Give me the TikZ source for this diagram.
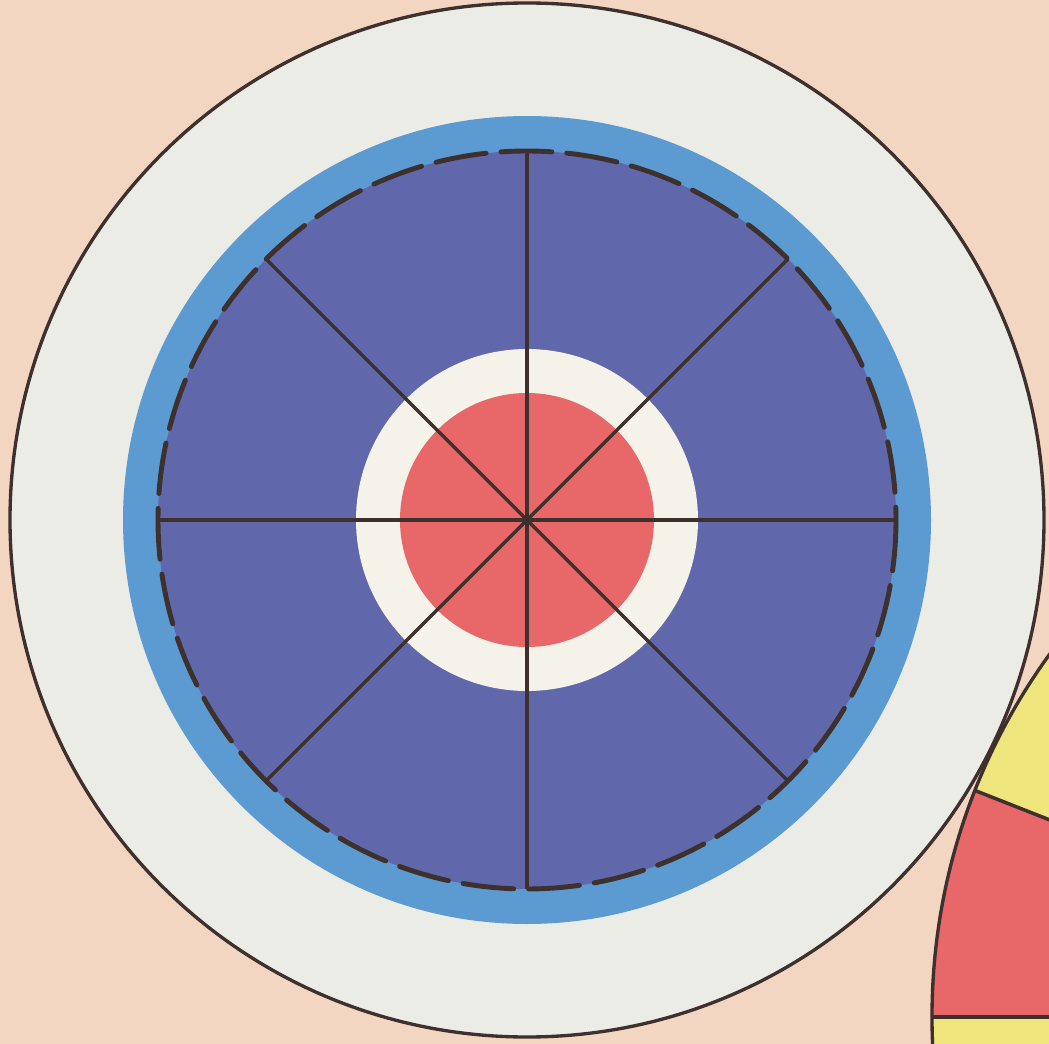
\documentclass[tikz,border=0pt]{standalone}
\usetikzlibrary{calc}
\definecolor{bg}{HTML}{F3D6C2}
\definecolor{paper}{HTML}{ECECE7}
\definecolor{ringblue}{HTML}{5C9BD2}
\definecolor{violet}{HTML}{6068AB}
\definecolor{innerwhite}{HTML}{F5F2EA}
\definecolor{target}{HTML}{E8686A}
\definecolor{sunyellow}{HTML}{EEE57C}
\definecolor{ink}{HTML}{3E302C}
\tikzset{
  outline/.style={draw=ink, line width=1.9pt},
  spoke/.style={draw=ink, line width=2pt},
  rim/.style={draw=ink, line width=2.8pt, line cap=round, dash pattern=on 29pt off 8.5pt},
}
\begin{document}
\begin{tikzpicture}[x=0.02cm,y=-0.02cm]
\useasboundingbox (0,0) rectangle (1049,1044);
\clip (0,0) rectangle (1049,1044);
\fill[bg] (0,0) rectangle (1049,1044);
\coordinate (C) at (527,520);
% big target
\path[fill=paper, outline] (C) circle (517);
\fill[ringblue] (C) circle (404);
\fill[violet] (C) circle (369);
\fill[innerwhite] (C) circle (171);
\fill[target] (C) circle (127);
\foreach \a in {0,45,...,315}{
  \coordinate (s\a) at ($(C)+(\a:369)$);
  \draw[spoke] (C) -- (s\a);
}
\draw[rim] (C) circle (369);
% partial wheel at bottom right
\coordinate (P) at (1550,1017);
\fill[sunyellow] (P) circle (618);
\fill[target] (P) -- ++(180:618) arc (180:201.5:618) -- cycle;
\coordinate (w1) at ($(P)+(180:618)$);
\coordinate (w2) at ($(P)+(201.5:618)$);
\draw[spoke] (P) -- (w1);
\draw[spoke] (P) -- (w2);
\draw[outline] (P) circle (618);
\end{tikzpicture}
\end{document}
